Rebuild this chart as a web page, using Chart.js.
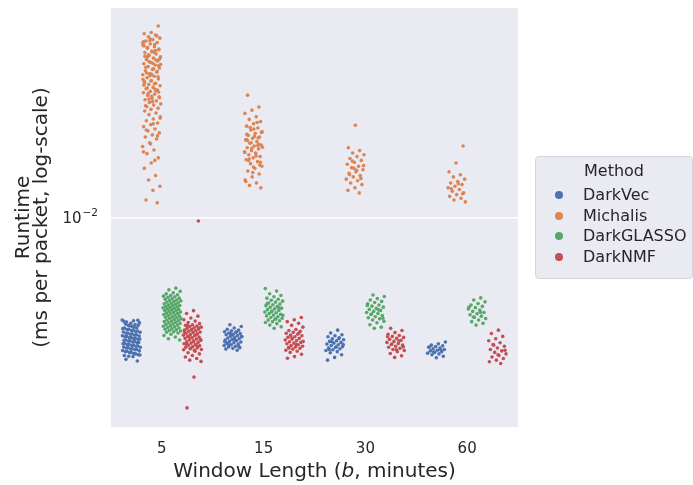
<!DOCTYPE html>
<html>
<head>
<meta charset="utf-8">
<script src="https://cdn.jsdelivr.net/npm/chart.js@4.4.0/dist/chart.umd.min.js"></script>
<style>
  html, body { margin: 0; padding: 0; background: #fff; }
  #wrap { position: relative; width: 693px; height: 485px; font-family: "DejaVu Sans", sans-serif; color: #262626; }
  #legend { position: absolute; left: 535px; top: 156px; width: 158px; height: 123px; box-sizing: border-box;
            background: #eaeaf2; border: 1px solid #d4d4dc; border-radius: 4px; font-size: 16px; }
  #legend .title { position: absolute; left: 0; width: 100%; top: 4px; text-align: center; }
  #legend .row { position: absolute; left: 0; height: 20px; line-height: 20px; }
  #legend .dot { position: absolute; left: 19px; top: 6px; width: 8px; height: 8px; border-radius: 50%; }
  #legend .lab { position: absolute; left: 47px; white-space: nowrap; }
</style>
</head>
<body>
<div id="wrap">
  <canvas id="chart" width="693" height="485"></canvas>
  <div id="legend"></div>
</div>
<script>
// Runtime values, in units of 1e-3 ms per packet, one list per window length
const CATEGORIES = ['5', '15', '30', '60'];
const METHODS = ['DarkVec', 'Michalis', 'DarkGLASSO', 'DarkNMF'];
const UNIT = 1e-3;

const darkVec = [
  [3.91,3.88,3.84,3.90,3.79,3.86,3.75,3.72,3.81,3.68,3.77,3.64,3.70,3.61,3.66,3.58,3.73,3.55,3.63,3.52,
   3.59,3.49,3.56,3.46,3.53,3.43,3.50,3.40,3.47,3.37,3.44,3.35,3.41,3.32,3.38,3.29,3.36,3.27,3.33,3.24,
   3.30,3.22,3.28,3.19,3.25,3.17,3.23,3.14,3.21,3.12,3.18,3.09,3.15,3.07,3.13,3.04,3.10,3.02,3.08,2.99,
   3.05,2.97,3.03,2.94,3.00,2.92,2.98,2.89,2.95,2.87,2.93,2.84,2.90,2.82,2.86,2.80,2.83,2.79,2.72,2.68],
  [3.74,3.68,3.63,3.59,3.56,3.54,3.51,3.49,3.47,3.45,3.43,3.41,3.39,3.37,3.35,3.33,3.31,3.29,3.27,3.25,
   3.23,3.21,3.19,3.17,3.15,3.13,3.11,3.09,3.07,3.05,3.03,3.01,2.99,2.96,3.46,3.36,3.26,3.16,3.06,3.40,
   3.20,3.50,3.10],
  [3.56,3.47,3.41,3.38,3.35,3.32,3.29,3.26,3.23,3.21,3.18,3.16,3.13,3.11,3.09,3.06,3.04,3.02,3.00,2.97,
   2.95,2.92,2.89,2.84,2.77,2.70,3.30,3.20,3.12,3.05,2.98],
  [3.19,3.14,3.10,3.08,3.06,3.04,3.02,3.00,2.98,2.96,2.94,2.92,2.90,2.88,2.86,2.84,2.80,2.76,3.05,2.97,
   2.91]
];

const michalis = [
  [58.6,55.2,54.6,53.9,53.1,52.4,51.7,51.0,50.3,49.7,49.0,48.4,47.7,47.1,46.5,45.9,45.3,44.7,44.1,43.6,
   43.0,42.5,41.9,41.4,40.9,40.3,39.8,39.3,38.8,38.3,37.8,37.4,36.9,36.4,36.0,35.5,35.1,34.6,34.2,33.8,
   33.3,32.9,32.5,32.1,31.7,31.3,30.9,30.5,30.1,29.7,29.4,29.0,28.6,28.3,27.9,27.5,27.2,48.8,46.8,45.0,
   43.3,41.6,40.1,38.6,37.1,35.8,34.4,33.1,31.9,30.7,26.8,26.3,25.9,25.4,24.9,24.5,24.0,23.6,23.2,22.7,
   22.3,21.9,21.5,21.1,20.7,20.0,19.3,18.7,18.1,17.4,16.6,15.8,14.8,14.2,13.4,12.9,11.8,11.5,52.0,50.7,
   49.4,48.1,47.4,46.2,44.4,42.8,42.2,41.1,39.5,38.0,36.7,35.3,34.0,32.7,31.5,30.3,29.2,28.1,53.5,51.3,
   50.0,46.0,44.0,40.6,37.6,34.8,32.3,29.9,25.1,23.8,22.5,21.3,19.8,18.4,17.0],
  [31.0,27.8,27.0,26.2,25.4,24.8,24.3,23.8,23.3,22.9,22.5,22.1,21.8,21.4,21.1,20.8,20.5,20.2,19.9,19.6,
   19.4,19.1,18.9,18.6,18.4,18.1,17.9,17.6,17.4,17.1,16.8,16.5,16.1,15.8,15.4,15.0,14.6,14.2,13.8,13.5,
   13.2,22.7,21.6,20.9,20.0,19.2,18.2,17.0,16.3,15.2,14.0,24.1,23.0,22.0,21.2,20.4,19.7,19.0,18.3,17.7,
   17.2,16.7,16.0,20.6,19.5],
  [23.5,19.1,18.6,18.2,17.9,17.6,17.3,17.0,16.7,16.4,16.1,15.9,15.6,15.3,15.1,14.8,14.6,14.3,14.1,13.8,
   13.6,13.2,12.9,12.6,16.9,16.2,15.5,14.9,14.4,15.8],
  [19.4,16.6,15.3,14.9,14.6,14.3,14.0,13.8,13.6,13.4,13.2,13.0,12.8,12.6,12.4,12.2,12.0,11.8,11.6,13.7,
   13.1,12.5]
];

const darkGlasso = [
  [5.24,5.16,5.09,5.02,4.97,4.93,4.90,4.87,4.84,4.81,4.78,4.76,4.73,4.70,4.68,4.66,4.63,4.61,4.58,4.56,
   4.54,4.52,4.49,4.47,4.45,4.43,4.41,4.39,4.37,4.35,4.33,4.31,4.29,4.27,4.25,4.23,4.21,4.19,4.17,4.15,
   4.13,4.11,4.09,4.07,4.05,4.03,4.01,3.99,3.97,3.95,3.93,3.91,3.89,3.87,3.85,3.83,3.81,3.79,3.77,3.75,
   3.73,3.71,3.69,3.67,3.65,3.63,3.61,3.59,3.57,3.55,3.53,3.51,3.49,3.47,3.43,3.39,3.34,3.29,3.25],
  [5.22,5.10,4.98,4.90,4.84,4.78,4.73,4.69,4.65,4.61,4.57,4.53,4.50,4.46,4.43,4.40,4.36,4.33,4.30,4.27,
   4.24,4.21,4.18,4.15,4.12,4.09,4.06,4.03,4.00,3.97,3.94,3.91,3.88,3.85,3.82,3.78,3.73,3.67,3.62,4.55,
   4.38,4.22,4.08,3.95],
  [4.92,4.85,4.76,4.70,4.64,4.59,4.54,4.49,4.44,4.40,4.35,4.31,4.27,4.23,4.19,4.15,4.11,4.07,4.03,3.99,
   3.95,3.91,3.86,3.81,3.74,3.66,3.62,4.47,4.29,4.13,3.97],
  [4.79,4.70,4.62,4.55,4.49,4.43,4.38,4.33,4.28,4.23,4.19,4.14,4.10,4.05,4.01,3.96,3.91,3.85,3.79,3.73,
   4.40,4.20,4.02]
];

const darkNmf = [
  [4.26,4.15,4.05,3.98,3.92,3.87,3.82,3.78,3.74,3.72,3.70,3.68,3.66,3.64,3.62,3.60,3.58,3.56,3.54,3.52,
   3.50,3.48,3.46,3.44,3.42,3.40,3.38,3.36,3.34,3.32,3.30,3.28,3.26,3.24,3.22,3.20,3.18,3.16,3.14,3.12,
   3.10,3.08,3.06,3.04,3.02,3.00,2.98,2.96,3.71,3.63,3.57,3.49,3.41,3.35,3.27,3.21,3.13,3.07,3.01,2.97,
   2.93,2.89,2.86,2.82,2.78,2.74,2.70,2.67,2.31,1.74,9.73],
  [4.00,3.92,3.85,3.79,3.72,3.66,3.58,3.55,3.52,3.49,3.46,3.43,3.40,3.38,3.35,3.33,3.30,3.28,3.25,3.23,
   3.20,3.18,3.16,3.14,3.11,3.09,3.07,3.05,3.03,3.01,2.99,2.96,2.93,2.90,2.85,2.79,2.75,3.47,3.31,3.21,
   3.12,3.02],
  [3.62,3.55,3.48,3.43,3.39,3.36,3.33,3.30,3.27,3.24,3.21,3.18,3.15,3.12,3.10,3.07,3.04,3.01,2.98,2.95,
   2.92,2.87,2.81,2.77,3.35,3.22,3.13,3.05,2.97],
  [3.56,3.45,3.36,3.29,3.23,3.17,3.12,3.07,3.02,2.98,2.94,2.90,2.86,2.82,2.78,2.74,2.70,2.66,2.62,3.10,
   2.96,2.84]
];

const SERIES = [darkVec, michalis, darkGlasso, darkNmf];
const Y_MIN = 0.001459;
const Y_MAX = 0.06918;
const Y_TICKS = [0.01];
const Y_TICK_BASE = ['10'];
const Y_TICK_EXP = ['\u22122'];

const COLORS = ['#4c72b0', '#dd8452', '#55a868', '#c44e52'];
const DODGE = [-0.3, -0.1, 0.1, 0.3];
const JITTER = 0.09;

// deterministic horizontal spread inside each strip (display only)
function jitter(i) {
  return (((i * 0.6180339887) % 1) - 0.5) * 2 * JITTER;
}

const datasets = METHODS.map((name, m) => {
  const pts = [];
  SERIES[m].forEach((vals, c) => {
    vals.forEach((v, i) => pts.push({ x: c + DODGE[m] + jitter(i + c * 7 + m * 3), y: v * UNIT }));
  });
  return {
    label: name,
    data: pts,
    backgroundColor: COLORS[m],
    borderWidth: 0,
    pointRadius: 1.8,
    pointHoverRadius: 1.8
  };
});

const plotBackground = {
  id: 'plotBackground',
  beforeDraw(chart) {
    const { ctx, chartArea: a } = chart;
    ctx.save();
    ctx.fillStyle = '#eaeaf2';
    ctx.fillRect(a.left, a.top, a.right - a.left, a.bottom - a.top);
    ctx.restore();
  }
};

// y tick labels as 10 with a raised exponent
const yTickLabels = {
  id: 'yTickLabels',
  afterDraw(chart) {
    const { ctx, chartArea: a } = chart;
    const y = chart.scales.y;
    ctx.save();
    ctx.fillStyle = '#262626';
    ctx.textBaseline = 'alphabetic';
    Y_TICKS.forEach((v, i) => {
      const py = y.getPixelForValue(v);
      ctx.font = '10.5px "DejaVu Sans"';
      const ew = ctx.measureText(Y_TICK_EXP[i]).width;
      const right = a.left - 13;
      ctx.fillText(Y_TICK_EXP[i], right - ew, py - 2);
      ctx.font = '15px "DejaVu Sans"';
      const bw = ctx.measureText(Y_TICK_BASE[i]).width;
      ctx.fillText(Y_TICK_BASE[i], right - ew - 1 - bw, py + 5);
    });
    ctx.restore();
  }
};

// x axis title with italic "b"
const xTitle = {
  id: 'xTitle',
  afterDraw(chart) {
    const { ctx, chartArea: a } = chart;
    const parts = [['Window Length (', 'normal'], ['b', 'italic'], [', minutes)', 'normal']];
    ctx.save();
    ctx.fillStyle = '#262626';
    ctx.textBaseline = 'alphabetic';
    let total = 0;
    parts.forEach(p => { ctx.font = p[1] + ' 20px "DejaVu Sans"'; total += ctx.measureText(p[0]).width; });
    let x = (a.left + a.right) / 2 - total / 2;
    parts.forEach(p => {
      ctx.font = p[1] + ' 20px "DejaVu Sans"';
      ctx.fillText(p[0], x, 477);
      x += ctx.measureText(p[0]).width;
    });
    ctx.restore();
  }
};

new Chart(document.getElementById('chart'), {
  type: 'scatter',
  data: { datasets },
  options: {
    responsive: false,
    animation: false,
    events: [],
    layout: { padding: { top: 8, right: 175, left: 0, bottom: 0 } },
    plugins: { legend: { display: false }, tooltip: { enabled: false } },
    scales: {
      x: {
        type: 'linear',
        min: -0.5,
        max: 3.5,
        afterBuildTicks: axis => { axis.ticks = CATEGORIES.map((c, i) => ({ value: i })); },
        afterFit: s => { s.height = 58; s.paddingLeft = 0; s.paddingRight = 0; },
        ticks: {
          callback: (v, i) => CATEGORIES[i],
          font: { family: 'DejaVu Sans', size: 15 },
          color: '#262626',
          padding: 5,
          maxRotation: 0
        },
        grid: { display: false },
        border: { display: false }
      },
      y: {
        type: 'logarithmic',
        min: Y_MIN,
        max: Y_MAX,
        afterBuildTicks: axis => { axis.ticks = Y_TICKS.map(v => ({ value: v })); },
        afterFit: s => { s.width = 111; s.paddingTop = 0; s.paddingBottom = 0; },
        ticks: {
          callback: () => '',
          font: { family: 'DejaVu Sans', size: 15 },
          padding: 12
        },
        grid: { color: '#ffffff', lineWidth: 1.5, drawTicks: false },
        border: { display: false },
        title: {
          display: true,
          text: ['Runtime', '(ms per packet, log-scale)'],
          font: { family: 'DejaVu Sans', size: 20, lineHeight: 0.9 },
          color: '#262626',
          padding: { top: 15, bottom: 0 }
        }
      }
    }
  },
  plugins: [plotBackground, yTickLabels, xTitle]
});

// legend (HTML)
const legend = document.getElementById('legend');
legend.innerHTML = '<div class="title">Method</div>' + METHODS.map((name, m) =>
  `<div class="row" style="top:${28 + m * 20.5}px"><span class="dot" style="background:${COLORS[m]}"></span><span class="lab">${name}</span></div>`
).join('');
</script>
</body>
</html>
